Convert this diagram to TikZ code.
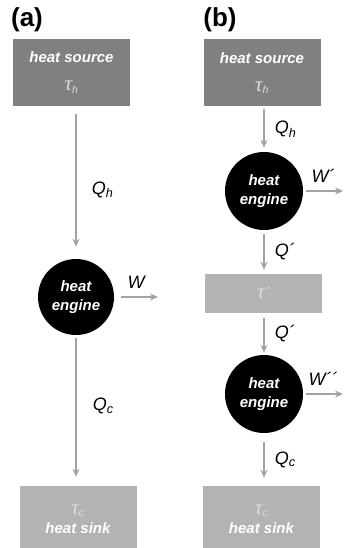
\documentclass[tikz,border=0pt]{standalone}
\usepackage{fontspec}
\setmainfont{Liberation Sans}
\newfontfamily\taufont{Liberation Serif}
\usetikzlibrary{arrows.meta,positioning}
\definecolor{SrcGray}{HTML}{808080}
\definecolor{SinkGray}{HTML}{B3B3B3}
\definecolor{ArrGray}{HTML}{A3A3A3}
\definecolor{TauLight}{HTML}{DCDCDC}
\newcommand{\taus}{{\taufont\mdseries\itshape\fontsize{21}{21}\selectfont τ}}
\newcommand{\tmp}[1]{\textcolor{TauLight}{\taus\textsubscript{\mdseries #1}}}
\newcommand{\qsub}[2]{#1\textsubscript{#2}}

\begin{document}
\begin{tikzpicture}[x=1pt,y=-1pt, every node/.style={font=\fontsize{15}{19}\selectfont\bfseries\itshape}, res/.style={rectangle,minimum width=117pt,inner sep=0pt,align=center,text=white}, eng/.style={circle,fill=black,minimum size=78pt,inner sep=0pt,align=center,text=white}, arr/.style={-{Stealth[length=8pt,width=7pt]},line width=1.5pt,ArrGray}, lbl/.style={font=\fontsize{18}{20}\selectfont\itshape,text=black,inner sep=0pt}, tag/.style={font=\fontsize{26}{28}\selectfont\bfseries,inner sep=0pt}]
\useasboundingbox (0,0) rectangle (347,548);
% (a) single engine
\node[tag] (tagA) at (27,20) {(a)};
\node[res,fill=SrcGray,minimum height=67pt] (srcA) at (71.5,72.5) {heat source\\[9pt]\tmp{h}};
\node[eng,minimum size=76pt] (heA) at (76,297) {heat\\engine};
\node[res,fill=SinkGray,minimum height=67pt] (sinkA) at (78,519.5) {\tmp{c}\\[0pt]heat sink};
\coordinate (wA) at (158,297);
\draw[arr,shorten <=8pt,shorten >=12pt] (srcA.south -| heA.north) -- (heA.north) node[lbl,pos=0.55,right=15pt] (qhA) {\qsub{Q}{h}};
\draw[arr,shorten <=3pt,shorten >=9pt] (heA.south) -- (heA.south |- sinkA.north) node[lbl,pos=0.47,right=16pt] (qcA) {\qsub{Q}{c}};
\draw[arr,shorten <=7pt] (heA) -- (wA) node[lbl,midway,above=8pt] (wlA) {W};
% (b) two engines in series
\node[tag] (tagB) at (220,20) {(b)};
\node[res,fill=SrcGray,minimum height=67pt] (srcB) at (262,73) {heat source\\[9pt]\tmp{h}};
\node[eng] (heB1) at (264,191) {heat\\engine};
\node[res,fill=SinkGray,minimum height=39pt] (midB) at (263.5,293.5) {\textcolor{TauLight}{\taus´}};
\node[eng] (heB2) at (264,394) {heat\\engine};
\node[res,fill=SinkGray,minimum height=67pt] (sinkB) at (261.5,519.5) {\tmp{c}\\[0pt]heat sink};
\coordinate (wB1) at (343,191);
\coordinate (wB2) at (343,394);
\draw[arr,shorten <=2pt,shorten >=4pt] (srcB.south -| heB1.north) -- (heB1.north) node[lbl,midway,right=10pt] (qhB) {\qsub{Q}{h}};
\draw[arr,shorten <=4pt,shorten >=4pt] (heB1.south) -- (heB1.south |- midB.north) node[lbl,midway,right=10pt] (qpB1) {Q´};
\draw[arr,shorten <=5pt,shorten >=2pt] (midB.south -| heB2.north) -- (heB2.north) node[lbl,midway,right=10pt] (qpB2) {Q´};
\draw[arr,shorten <=9pt,shorten >=8pt] (heB2.south) -- (heB2.south |- sinkB.north) node[lbl,midway,right=10pt] (qcB) {\qsub{Q}{c}};
\draw[arr,shorten <=3pt] (heB1) -- (wB1) node[lbl,midway,above=8pt] (wlB1) {W´};
\draw[arr,shorten <=3pt] (heB2) -- (wB2) node[lbl,midway,above=8pt] (wlB2) {W´´};
\end{tikzpicture}
\end{document}
